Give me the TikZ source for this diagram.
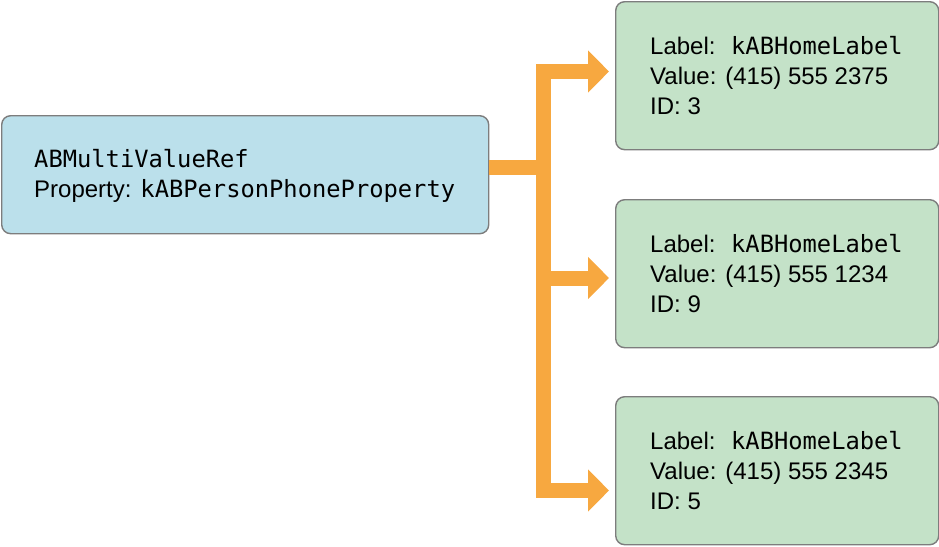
\documentclass[tikz,border=0pt]{standalone}
\usepackage{fontspec}
\setmainfont{Liberation Sans}
\setmonofont[Scale=0.99]{DejaVu Sans Mono}
\usetikzlibrary{arrows.meta}
\definecolor{bluefill}{RGB}{187,224,235}
\definecolor{greenfill}{RGB}{196,226,200}
\definecolor{boxline}{RGB}{125,125,125}
\definecolor{orangec}{RGB}{247,168,64}
\begin{document}
\begin{tikzpicture}[x=1pt,y=-1pt,
  basebox/.style={draw=boxline, line width=1.4pt, rounded corners=9pt, anchor=north west, inner sep=0pt},
  refbox/.style={basebox, fill=bluefill, minimum width=487pt, minimum height=118pt},
  valbox/.style={basebox, fill=greenfill, minimum width=323pt, minimum height=148pt},
  txt/.style={anchor=west, align=left, inner sep=0pt, font=\fontsize{24}{30}\selectfont},
  flow/.style={draw=orangec, line width=15pt, line join=miter},
  tipa/.style={-{Triangle[length=21pt,width=41pt]}}
]
\useasboundingbox (0,0) rectangle (939,546);
\node[refbox] (ref) at (1,115) {};
\node[valbox] (v1) at (615,1) {};
\node[valbox] (v2) at (615,199) {};
\node[valbox] (v3) at (615,396) {};
\node[txt] (reft) at ([xshift=33pt,yshift=-1pt]ref.west) {\texttt{ABMultiValueRef}\\Property: \texttt{kABPersonPhoneProperty}};
\node[txt] (v1t) at ([xshift=35pt]v1.west) {Label: \ \texttt{kABHomeLabel}\\Value: (415) 555 2375\\ID: 3};
\node[txt] (v2t) at ([xshift=35pt]v2.west) {Label: \ \texttt{kABHomeLabel}\\Value: (415) 555 1234\\ID: 9};
\node[txt] (v3t) at ([xshift=35pt]v3.west) {Label: \ \texttt{kABHomeLabel}\\Value: (415) 555 2345\\ID: 5};
\coordinate (j) at (543,167.5);
\coordinate (t1) at (543,71.5);
\coordinate (t2) at (543,278);
\coordinate (t3) at (543,490.5);
\draw[flow] (ref.east |- j) -- (j);
\draw[flow, {Triangle[length=21pt,width=41pt]}-{Triangle[length=21pt,width=41pt]}, shorten <=6pt, shorten >=6pt]
  (v1.west |- t1) -- (t1) -- (t3) -- (v3.west |- t3);
\draw[flow, tipa, shorten >=6pt] (t2) -- (v2.west |- t2);
\end{tikzpicture}
\end{document}
